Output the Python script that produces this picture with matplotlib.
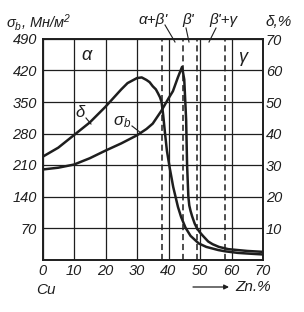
import matplotlib
matplotlib.use('Agg')
from matplotlib import pyplot as plt

plt.rcParams['font.family'] = ['Liberation Sans', 'DejaVu Sans']
plt.rcParams['font.style'] = 'italic'
plt.rcParams['mathtext.fontset'] = 'custom'
plt.rcParams['mathtext.rm'] = 'Liberation Sans:italic'
plt.rcParams['mathtext.it'] = 'Liberation Sans:italic'

# Zn content, % -> elongation delta, %
zn_delta = [0, 5, 10, 15, 20, 25, 27, 30, 31.5, 33, 34, 35, 36, 36.7, 37.3,
            37.8, 38.3, 38.9, 39.5, 40.4, 41.5, 43, 44, 45.4, 47, 49.6, 52,
            55.8, 58, 62, 65, 70]
delta = [32.6, 35.5, 39.5, 43.5, 48.5, 54, 56, 57.6, 57.8, 57, 56.3, 55, 54,
         52.7, 51.5, 50, 46, 40, 34.5, 29, 23, 16.7, 13.5, 10.1, 7.5, 5.1, 4,
         3.0, 2.6, 2.1, 1.9, 1.6]

# Zn content, % -> tensile strength sigma_b, MN/m2
zn_sigma = [0, 5, 10, 15, 20, 25, 30, 33, 35, 37.7, 40, 41.4, 43, 44.3, 45,
            45.6, 45.9, 46.3, 46.6, 47, 47.5, 48.3, 49, 50, 51, 52.6, 54, 56,
            59, 65, 70]
sigma = [200, 204, 211, 225, 242, 258, 276, 290, 302, 330, 358, 374, 405, 428,
         400, 310, 210, 140, 120, 108, 96, 80, 70, 60, 52, 40, 34, 28,
         23, 19, 17]

# phase boundaries, % Zn
boundaries = [38, 44.5, 49, 58]

x_ticks = [0, 10, 20, 30, 40, 50, 60, 70]
left_ticks = [70, 140, 210, 280, 350, 420, 490]
right_ticks = [10, 20, 30, 40, 50, 60, 70]

W, H = 304, 312
fig = plt.figure(figsize=(W / 100, H / 100), dpi=100)
ax = fig.add_axes([42.5 / W, 1 - 259.5 / H, 220.5 / W, 220.5 / H])
ax2 = ax.twinx()

ink = '#1e1e1e'
ax.set_xlim(0, 70)
ax.set_ylim(0, 490)
ax2.set_ylim(0, 70)
ax.set_xticks(x_ticks)
ax.set_yticks(left_ticks)
ax2.set_yticks(right_ticks)
ax.grid(True, color=ink, lw=0.9)
for a in (ax, ax2):
    for s in a.spines.values():
        s.set_color(ink)
        s.set_linewidth(1.2)
    a.tick_params(length=0, labelsize=10.5, colors=ink)
ax.tick_params(axis='y', pad=4)
ax.tick_params(axis='x', pad=3)
ax2.tick_params(axis='y', pad=2)

for b in boundaries:
    ax.axvline(b, color=ink, lw=1.1, ls=(0, (4, 2.5)))

ax.plot(zn_sigma, sigma, color=ink, lw=1.8, solid_joinstyle='round')
ax2.plot(zn_delta, delta, color=ink, lw=1.8, solid_joinstyle='round')


def fx(px):
    return px / W


def fy(py):
    return 1 - py / H


fig.text(fx(6), fy(22), 'σ$_b$, Мн/м$^2$', fontsize=10.5, va='center', color=ink)
fig.text(fx(266), fy(22), 'δ,%', fontsize=11, va='center', color=ink)
fig.text(fx(153), fy(20), "α+β'", fontsize=11, ha='center', va='center', color=ink)
fig.text(fx(188), fy(20), "β'", fontsize=11, ha='center', va='center', color=ink)
fig.text(fx(223), fy(20), "β'+γ", fontsize=11, ha='center', va='center', color=ink)
fig.text(fx(87), fy(55), 'α', fontsize=13, ha='center', va='center', color=ink)
fig.text(fx(243), fy(58), 'γ', fontsize=13, ha='center', va='center', color=ink)
fig.text(fx(80), fy(112), 'δ', fontsize=12, ha='center', va='center', color=ink)
fig.text(fx(122), fy(122), 'σ$_b$', fontsize=12, ha='center', va='center', color=ink)
fig.text(fx(46), fy(290), 'Cu', fontsize=11, ha='center', va='center', color=ink)
fig.text(fx(235), fy(287), 'Zn.%', fontsize=11, va='center', color=ink)

# leaders
leaders = [((165, 25), (175, 42)), ((186, 28), (189, 42)),
           ((216, 28), (209, 42)), ((86, 118), (91, 124)),
           ((132, 126), (141, 133))]
for (x0, y0), (x1, y1) in leaders:
    fig.add_artist(plt.Line2D([fx(x0), fx(x1)], [fy(y0), fy(y1)],
                              color=ink, lw=0.8))

ax.annotate('', xy=(fx(229), fy(287)), xytext=(fx(193), fy(287)),
            xycoords='figure fraction', textcoords='figure fraction',
            arrowprops=dict(arrowstyle='-|>', color=ink, lw=0.9,
                            mutation_scale=7, shrinkA=0, shrinkB=0))

fig.savefig('out.png', dpi=100, facecolor='white')
